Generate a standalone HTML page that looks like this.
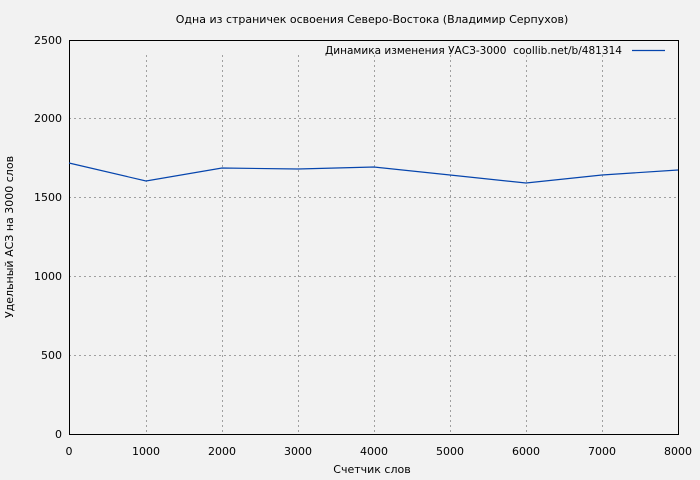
<!DOCTYPE html>
<html><head><meta charset="utf-8"><style>body{margin:0;background:#f2f2f2}svg{display:block}text{font-family:"DejaVu Sans","Liberation Sans",sans-serif;font-size:11px;fill:#000}</style></head><body>
<svg width="700" height="480" xmlns="http://www.w3.org/2000/svg">
<rect width="700" height="480" fill="#f2f2f2"/>
<g stroke="#a0a0a0" stroke-dasharray="2,3" stroke-width="1">
<line x1="69" y1="355.5" x2="678" y2="355.5"/><line x1="69" y1="276.5" x2="678" y2="276.5"/><line x1="69" y1="197.5" x2="678" y2="197.5"/><line x1="69" y1="118.5" x2="678" y2="118.5"/>
<line x1="146.5" y1="55" x2="146.5" y2="434"/><line x1="222.5" y1="55" x2="222.5" y2="434"/><line x1="298.5" y1="55" x2="298.5" y2="434"/><line x1="374.5" y1="55" x2="374.5" y2="434"/><line x1="450.5" y1="55" x2="450.5" y2="434"/><line x1="526.5" y1="55" x2="526.5" y2="434"/><line x1="602.5" y1="55" x2="602.5" y2="434"/>
</g>
<rect x="69.5" y="40.5" width="609" height="394" fill="none" stroke="#000"/>
<polyline fill="none" stroke="#0645ad" stroke-width="1.2" points="69,163 146,181 222,168 298,169 374,167 450,175 526,183 602,175 678,170"/>
<line x1="632" y1="50.5" x2="665" y2="50.5" stroke="#0645ad" stroke-width="1.2"/>
<text x="325" y="54" textLength="297" lengthAdjust="spacingAndGlyphs">Динамика изменения УАСЗ-3000&#160;&#160;coollib.net/b/481314</text>
<text x="372" y="23" text-anchor="middle">Одна из страничек освоения Северо-Востока (Владимир Серпухов)</text>
<g text-anchor="end"><text x="62" y="438">0</text><text x="62" y="359">500</text><text x="62" y="280">1000</text><text x="62" y="201">1500</text><text x="62" y="122">2000</text><text x="62" y="44">2500</text></g>
<g text-anchor="middle"><text x="69" y="455">0</text><text x="146" y="455">1000</text><text x="222" y="455">2000</text><text x="298" y="455">3000</text><text x="374" y="455">4000</text><text x="450" y="455">5000</text><text x="526" y="455">6000</text><text x="602" y="455">7000</text><text x="678" y="455">8000</text>
<text x="372" y="473">Счетчик слов</text>
<text transform="translate(13,237) rotate(-90)">Удельный АСЗ на 3000 слов</text></g>
</svg>
</body></html>
